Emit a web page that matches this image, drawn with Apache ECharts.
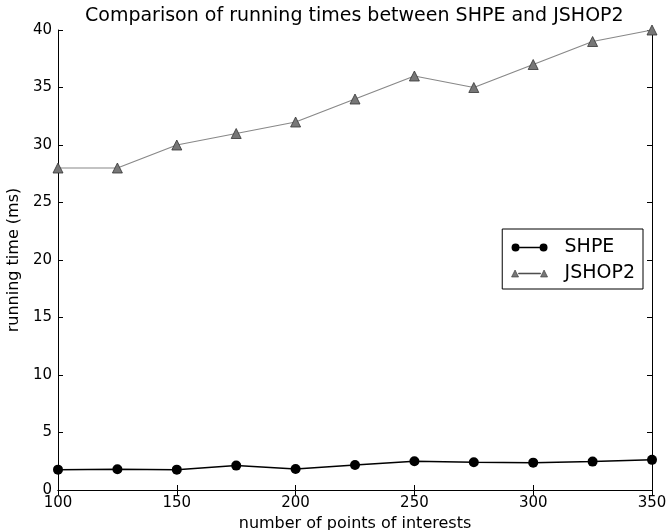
<!DOCTYPE html>
<html>
<head>
<meta charset="utf-8">
<script src="https://cdn.jsdelivr.net/npm/echarts@6/dist/echarts.min.js"></script>
<style>
  html, body { margin: 0; padding: 0; background: #fff; }
  #chart { width: 669px; height: 530px; }
</style>
</head>
<body>
<div id="chart"></div>
<script>
// Running times of SHPE vs JSHOP2.
const points = [100, 125, 150, 175, 200, 225, 250, 275, 300, 325, 350];
const shpeTimes = [1.77, 1.8, 1.77, 2.12, 1.83, 2.18, 2.5, 2.41, 2.38, 2.47, 2.62];
const jshopTimes = [28, 28, 30, 31, 32, 34, 36, 35, 37, 39, 40];

const FONT = "DejaVu Sans";

// Legend icons drawn like matplotlib: marker - line - marker.
const circleIcon =
  "path://M0,5 A4,4 0 1,0 8,5 A4,4 0 1,0 0,5 Z M8,4.3 L28,4.3 L28,5.7 L8,5.7 Z M28,5 A4,4 0 1,0 36,5 A4,4 0 1,0 28,5 Z";
const triangleIcon =
  "path://M0,8.5 L3.5,1.5 L7,8.5 Z M7,4.6 L29,4.6 L29,5.4 L7,5.4 Z M29,8.5 L32.5,1.5 L36,8.5 Z";

function pairs(xs, ys) {
  return xs.map((x, i) => [x, ys[i]]);
}

const chart = echarts.init(document.getElementById("chart"));

// Mirror axes on top/right only carry the inward ticks of the frame.
const hiddenAxis = {
  axisLine: { show: true, lineStyle: { color: "#000", width: 1 } },
  axisTick: { show: true, inside: true, length: 5, lineStyle: { color: "#000" } },
  axisLabel: { show: false },
  splitLine: { show: false },
};

chart.setOption({
  animation: false,
  textStyle: { fontFamily: FONT },
  title: {
    text: "Comparison of running times between SHPE and JSHOP2",
    left: 80,
    top: 2,
    textStyle: { fontFamily: FONT, fontSize: 19, fontWeight: "normal", color: "#000" },
  },
  grid: { left: 58, right: 17, top: 30, bottom: 40, outerBoundsMode: "none" },
  legend: {
    right: 26,
    top: 229,
    orient: "vertical",
    backgroundColor: "#fff",
    borderColor: "#000",
    borderWidth: 1,
    borderRadius: 0,
    padding: [9, 8, 6, 9],
    itemGap: 7,
    itemWidth: 36,
    itemHeight: 10,
    textStyle: { fontFamily: FONT, fontSize: 19, color: "#000", padding: [0, 0, 0, 12] },
    data: [
      { name: "SHPE", icon: circleIcon, itemStyle: { color: "#000" } },
      {
        name: "JSHOP2",
        icon: triangleIcon,
        itemStyle: { color: "#777", borderColor: "#333", borderWidth: 0.6 },
      },
    ],
  },
  xAxis: [
    {
      type: "value",
      min: 100,
      max: 350,
      interval: 50,
      name: "number of points of interests",
      nameLocation: "middle",
      nameGap: 25,
      nameTextStyle: { fontFamily: FONT, fontSize: 16, color: "#000" },
      axisLine: { lineStyle: { color: "#000", width: 1 } },
      axisTick: { inside: true, length: 5, lineStyle: { color: "#000" } },
      axisLabel: { fontFamily: FONT, fontSize: 15, color: "#000", margin: 6 },
      splitLine: { show: false },
    },
    Object.assign({ type: "value", min: 100, max: 350, interval: 50, position: "top" }, hiddenAxis),
  ],
  yAxis: [
    {
      type: "value",
      min: 0,
      max: 40,
      interval: 5,
      name: "running time (ms)",
      nameLocation: "middle",
      nameGap: 28,
      nameTextStyle: { fontFamily: FONT, fontSize: 16, color: "#000" },
      axisLine: { show: true, lineStyle: { color: "#000", width: 1 } },
      axisTick: { show: true, inside: true, length: 5, lineStyle: { color: "#000" } },
      axisLabel: { fontFamily: FONT, fontSize: 15, color: "#000", margin: 6 },
      splitLine: { show: false },
    },
    Object.assign({ type: "value", min: 0, max: 40, interval: 5, position: "right" }, hiddenAxis),
  ],
  series: [
    {
      name: "SHPE",
      type: "line",
      data: pairs(points, shpeTimes),
      symbol: "circle",
      symbolSize: 10,
      lineStyle: { color: "#000", width: 1.5 },
      itemStyle: { color: "#000" },
    },
    {
      name: "JSHOP2",
      type: "line",
      data: pairs(points, jshopTimes),
      symbol: "triangle",
      symbolSize: 10,
      lineStyle: { color: "#888", width: 1.2 },
      itemStyle: { color: "#777", borderColor: "#333", borderWidth: 0.8 },
    },
  ],
});
</script>
</body>
</html>
